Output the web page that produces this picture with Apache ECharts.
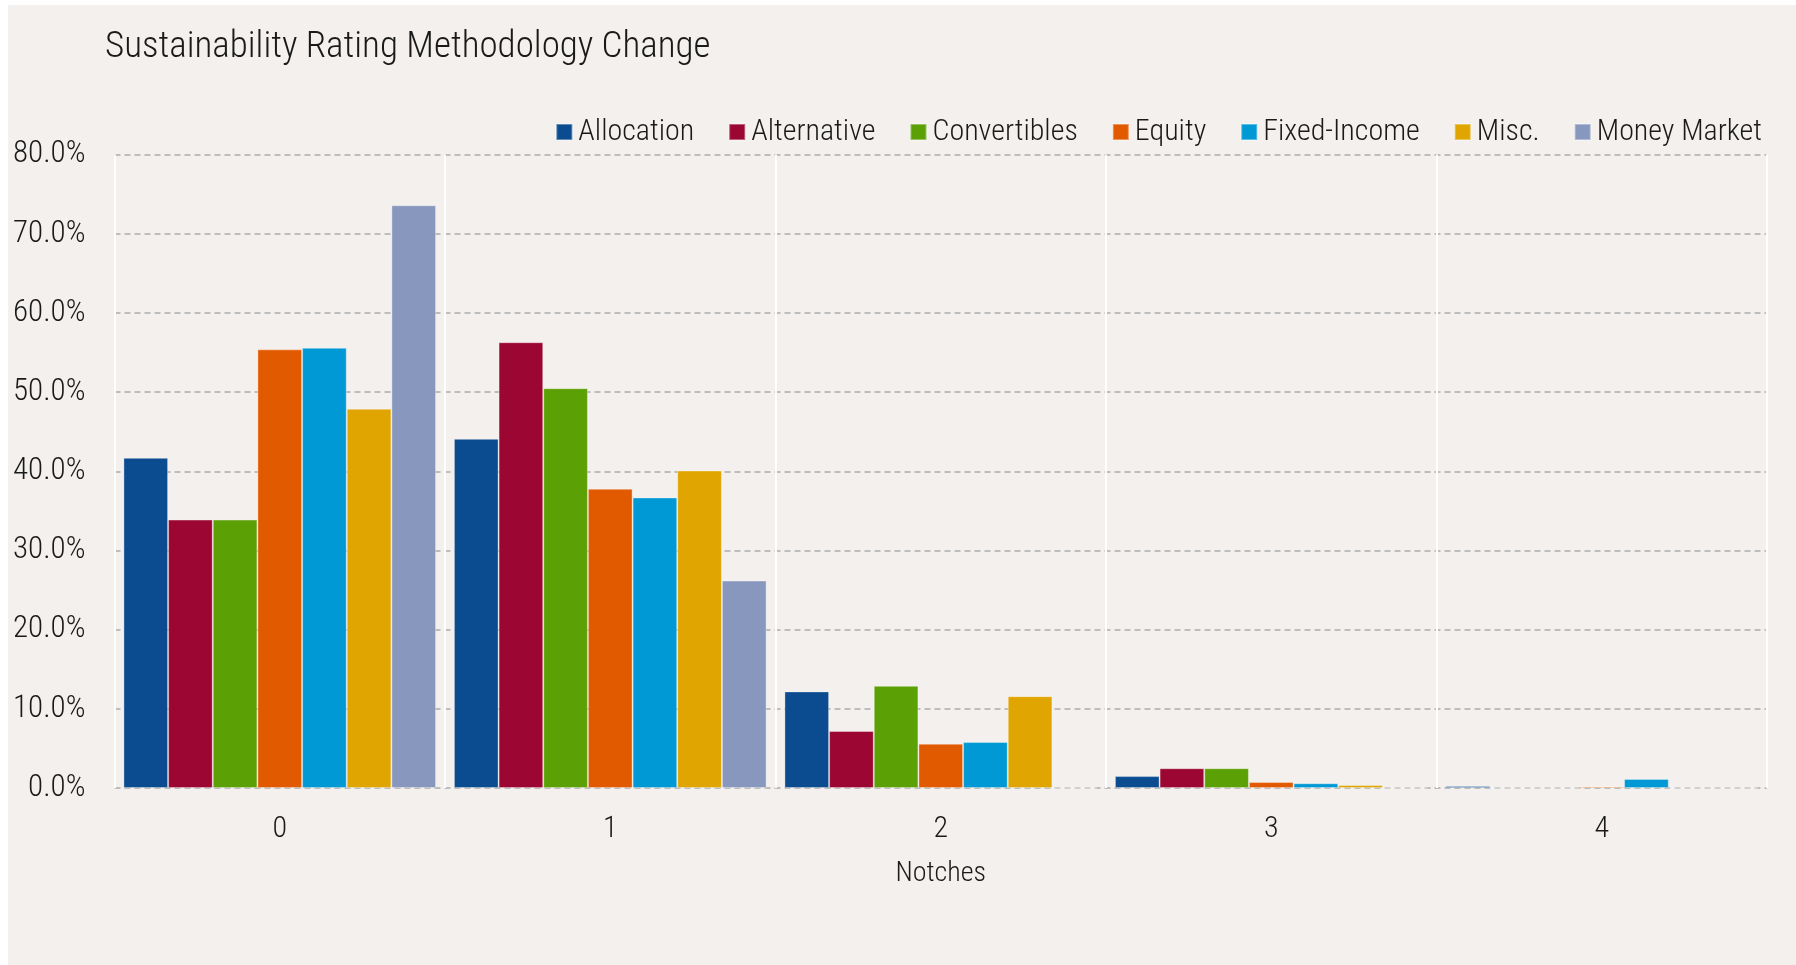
<!DOCTYPE html>
<html>
<head>
<meta charset="utf-8">
<script src="https://cdn.jsdelivr.net/npm/echarts@6/dist/echarts.min.js"></script>
<style>
  html, body { margin: 0; padding: 0; background: #ffffff; }
  #main { position: absolute; left: 8px; top: 5px; width: 1788px; height: 960px; }
</style>
</head>
<body>
<div id="main"></div>
<script>
  // notches of change
  var categories = ['0', '1', '2', '3', '4'];
  var seriesNames = ['Allocation', 'Alternative', 'Convertibles', 'Equity', 'Fixed-Income', 'Misc.', 'Money Market'];
  var colors = ['#0a4c8f', '#9b0632', '#5ba004', '#e25a00', '#0099d5', '#e0a500', '#8797be'];

  // % of funds per notch
  var allocation   = [41.7, 44.1, 12.2, 1.5, 0.25];
  var alternative  = [33.9, 56.3, 7.2, 2.5, 0];
  var convertibles = [33.9, 50.5, 12.9, 2.5, 0];
  var equity       = [55.4, 37.8, 5.6, 0.75, 0.2];
  var fixedIncome  = [55.6, 36.7, 5.8, 0.6, 1.15];
  var misc         = [47.9, 40.1, 11.6, 0.38, 0];
  var moneyMarket  = [73.6, 26.2, 0, 0, 0];

  var values = [allocation, alternative, convertibles, equity, fixedIncome, misc, moneyMarket];

  var font = '"Roboto Condensed", "Liberation Sans", sans-serif';
  var series = [];
  for (var i = 0; i < seriesNames.length; i++) {
    series.push({
      name: seriesNames[i],
      type: 'bar',
      data: values[i],
      barGap: '0%',
      barCategoryGap: '5.4%',
      itemStyle: { color: colors[i], borderColor: 'rgba(255,255,255,0.35)', borderWidth: 1 }
    });
  }

  var chart = echarts.init(document.getElementById('main'));
  chart.setOption({
    backgroundColor: '#f3f0ed',
    animation: false,
    color: colors,
    title: {
      text: 'Sustainability Rating Methodology Change',
      left: 92,
      top: 19,
      textStyle: { fontFamily: font, fontWeight: 300, fontSize: 37, color: '#1a1a1a' }
    },
    legend: {
      right: 29,
      top: 107,
      icon: 'rect',
      itemWidth: 16,
      itemHeight: 16,
      itemGap: 34,
      textStyle: { fontFamily: font, fontWeight: 300, fontSize: 30, color: '#1a1a1a', padding: [0, 0, 0, 1] },
      data: seriesNames
    },
    grid: { left: 106.5, right: 29, top: 149.6, bottom: 177, containLabel: false, outerBoundsMode: 'none' },
    xAxis: {
      type: 'category',
      data: categories,
      name: 'Notches',
      nameLocation: 'middle',
      nameGap: 72,
      nameTextStyle: { fontFamily: font, fontWeight: 300, fontSize: 28, color: '#1a1a1a' },
      axisLine: { show: false },
      axisTick: { show: false },
      axisLabel: { fontFamily: font, fontWeight: 300, fontSize: 30, color: '#1a1a1a', margin: 26 },
      splitLine: { show: true, lineStyle: { color: '#ffffff', width: 2 } }
    },
    yAxis: {
      type: 'value',
      min: 0,
      max: 80,
      interval: 10,
      axisLine: { show: false },
      axisTick: { show: false },
      axisLabel: {
        fontFamily: font, fontWeight: 300, fontSize: 31, color: '#1a1a1a', margin: 29,
        formatter: function (v) { return v.toFixed(1) + '%'; }
      },
      splitLine: { lineStyle: { color: '#bdbdbd', width: 2, type: [6, 4] } }
    },
    series: series
  });
</script>
</body>
</html>
